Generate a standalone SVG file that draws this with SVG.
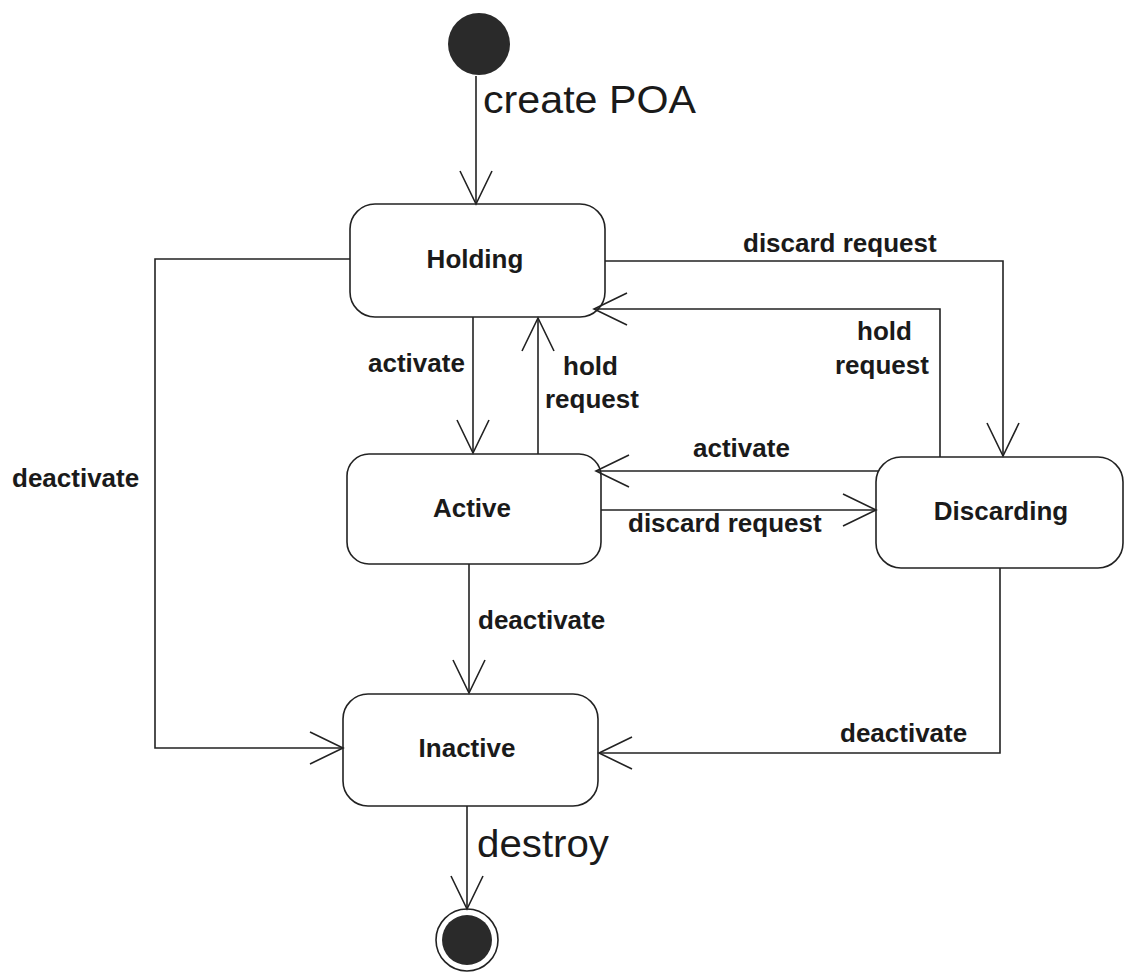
<svg xmlns="http://www.w3.org/2000/svg" width="1125" height="973" viewBox="0 0 1125 973">
<style>
.node{fill:#fff;stroke:#222;stroke-width:1.6}
.ntxt{font-family:"Liberation Sans",Arial,sans-serif;font-weight:bold;font-size:26px;fill:#1a1a1a;text-anchor:middle}
.lbl{font-family:"Liberation Sans",Arial,sans-serif;font-weight:bold;font-size:26px;fill:#1a1a1a}
.big{font-family:"Liberation Sans",Arial,sans-serif;font-size:38px;fill:#1a1a1a}
.edge{fill:none;stroke:#222;stroke-width:1.6}
</style>
<defs>
<marker id="arr" markerUnits="userSpaceOnUse" markerWidth="40" markerHeight="40" viewBox="-36 -20 40 40" refX="0" refY="0" orient="auto">
<path d="M-33,-16 L0,0 L-33,16" fill="none" stroke="#222" stroke-width="1.6"/>
</marker>
</defs>
<rect width="1125" height="973" fill="#fff"/>
<g id="initial"><circle cx="479" cy="44" r="31" fill="#2a2a2a"/></g>
<g id="holding"><rect class="node" x="350" y="204" width="255" height="113" rx="25"/><text class="ntxt" x="475" y="268">Holding</text></g>
<g id="active"><rect class="node" x="347" y="454" width="254" height="110" rx="22"/><text class="ntxt" x="472" y="517">Active</text></g>
<g id="discarding"><rect class="node" x="876" y="457" width="247" height="111" rx="25"/><text class="ntxt" x="1001" y="520">Discarding</text></g>
<g id="inactive"><rect class="node" x="343" y="694" width="255" height="112" rx="25"/><text class="ntxt" x="467" y="757">Inactive</text></g>
<g id="final"><circle cx="467" cy="940" r="31" fill="#fff" stroke="#222" stroke-width="1.6"/><circle cx="467" cy="940" r="25" fill="#2a2a2a"/></g>
<g id="connectors">
<path class="edge" d="M476,76 V204" marker-end="url(#arr)"/>
<path class="edge" d="M473,317 V453" marker-end="url(#arr)"/>
<path class="edge" d="M538,454 V318" marker-end="url(#arr)"/>
<path class="edge" d="M605,261 H1003 V456" marker-end="url(#arr)"/>
<path class="edge" d="M940,457 V309 H594" marker-end="url(#arr)"/>
<path class="edge" d="M878,471 H596" marker-end="url(#arr)"/>
<path class="edge" d="M601,510 H876" marker-end="url(#arr)"/>
<path class="edge" d="M469,564 V693" marker-end="url(#arr)"/>
<path class="edge" d="M350,259 H155 V748 H343" marker-end="url(#arr)"/>
<path class="edge" d="M1000,568 V753 H599" marker-end="url(#arr)"/>
<path class="edge" d="M467,806 V909" marker-end="url(#arr)"/>
</g>
<g id="labels">
<text class="big" x="483" y="113" textLength="213" lengthAdjust="spacingAndGlyphs">create POA</text>
<text class="lbl" x="368" y="372">activate</text>
<text class="lbl" x="563" y="375">hold</text>
<text class="lbl" x="545" y="408">request</text>
<text class="lbl" x="743" y="252">discard request</text>
<text class="lbl" x="857" y="340">hold</text>
<text class="lbl" x="835" y="374">request</text>
<text class="lbl" x="693" y="457">activate</text>
<text class="lbl" x="628" y="532">discard request</text>
<text class="lbl" x="12" y="487">deactivate</text>
<text class="lbl" x="478" y="629">deactivate</text>
<text class="lbl" x="840" y="742">deactivate</text>
<text class="big" x="477" y="857" textLength="132" lengthAdjust="spacingAndGlyphs">destroy</text>
</g>
</svg>
